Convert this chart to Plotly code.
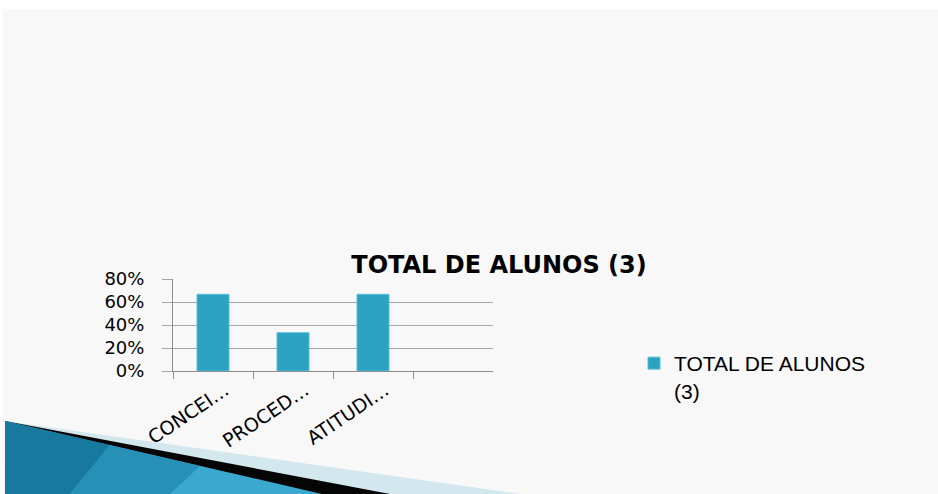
import plotly.graph_objects as go

W, H = 938, 494

categories = ["CONCEI…", "PROCED…", "ATITUDI…", " "]
values = [0.667, 0.333, 0.667, None]
series_name = "TOTAL DE ALUNOS<br>(3)"
chart_title = "TOTAL DE ALUNOS (3)"

def px(x):
    return x / W

def py(y):
    return 1 - y / H

def path(points):
    s = "M " + " L ".join(f"{px(x):.5f},{py(y):.5f}" for x, y in points) + " Z"
    return s

fig = go.Figure()
fig.add_trace(go.Bar(
    x=categories, y=values, name=series_name,
    marker=dict(color="#2BA2BF", line=dict(color="#5CC0D8", width=1)),
    width=0.4, showlegend=True,
))

shapes = [
    # slide background
    dict(type="rect", xref="paper", yref="paper", x0=px(3), x1=px(938), y0=py(494), y1=py(9),
         fillcolor="#F8F8F8", line=dict(width=0), layer="below"),
    # decorative wedges
    dict(type="path", xref="paper", yref="paper", path=path([(5, 421), (520, 494), (5, 494)]),
         fillcolor="#D3E7EE", line=dict(width=0), layer="below"),
    dict(type="path", xref="paper", yref="paper", path=path([(5, 421), (390, 494), (5, 494)]),
         fillcolor="#050505", line=dict(width=0), layer="below"),
    dict(type="path", xref="paper", yref="paper", path=path([(5, 421), (322, 494), (5, 494)]),
         fillcolor="#3AA8CF", line=dict(width=0), layer="below"),
    dict(type="path", xref="paper", yref="paper", path=path([(5, 421), (110, 445), (70, 494), (5, 494)]),
         fillcolor="#17799D", line=dict(width=0), layer="below"),
    dict(type="path", xref="paper", yref="paper", path=path([(110, 445), (200, 466), (170, 494), (70, 494)]),
         fillcolor="#2790B6", line=dict(width=0), layer="below"),
]

fig.update_layout(
    width=W, height=H,
    margin=dict(l=0, r=0, t=0, b=0, pad=0, autoexpand=False),
    paper_bgcolor="white",
    plot_bgcolor="rgba(0,0,0,0)",
    shapes=shapes,
    title=dict(text=f"<b>{chart_title}</b>", x=px(499), y=py(265), xanchor="center", yanchor="middle",
               xref="paper", yref="paper", automargin=False,
               font=dict(family="DejaVu Sans", size=24, color="#000000")),
    showlegend=True,
    legend=dict(x=px(634), y=py(343), xanchor="left", yanchor="top", valign="top",
                font=dict(family="Liberation Sans", size=21, color="#000000"),
                bgcolor="rgba(0,0,0,0)"),
    xaxis=dict(domain=[px(173), px(493)], type="category", categoryorder="array",
               categoryarray=categories, automargin=False,
               showgrid=False, showline=True, linecolor="#8C8C8C", linewidth=1,
               ticks="outside", tickson="boundaries", ticklen=7, tickcolor="#8C8C8C",
               ticklabelshift=12,
               tickangle=-34, tickfont=dict(family="DejaVu Sans", size=19, color="#000000")),
    yaxis=dict(domain=[py(371), py(279)], range=[0, 0.8], dtick=0.2, tickformat=".0%",
               automargin=False,
               showgrid=True, gridcolor="#A6A6A6", gridwidth=1,
               showline=True, linecolor="#8C8C8C", linewidth=1, zeroline=False,
               ticks="outside", ticklen=10, tickcolor="#A6A6A6", ticklabelstandoff=14,
               tickfont=dict(family="DejaVu Sans", size=18, color="#000000")),
    bargap=0.6,
)

fig.write_html("out.html", config={"displayModeBar": False},
               post_script="document.body.style.margin='0';document.body.style.padding='0';")
